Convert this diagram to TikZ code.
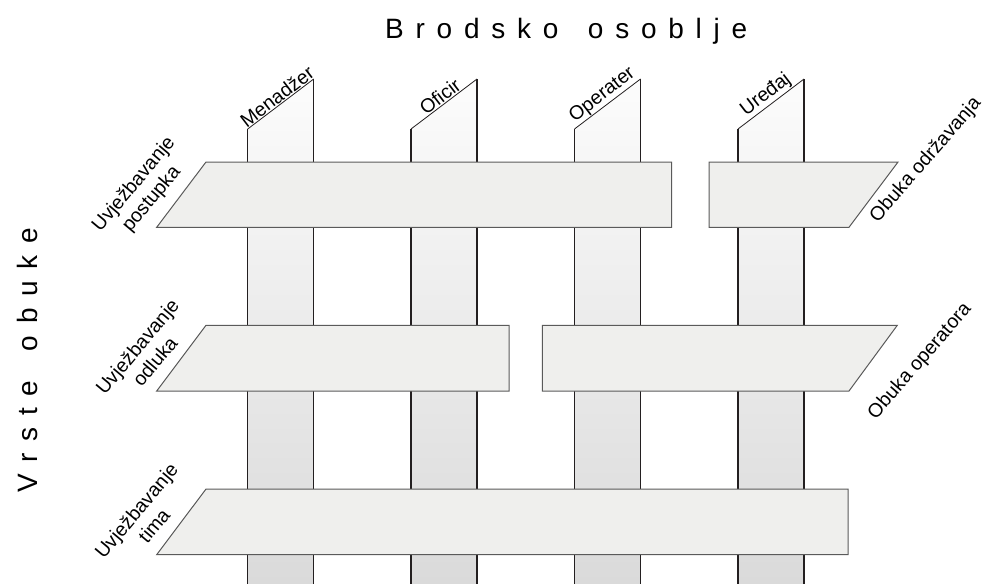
\documentclass[tikz,border=0pt]{standalone}
\usepackage{fontspec}
\setmainfont{Liberation Sans}
\newfontfamily\spacedsans[LetterSpace=42]{Liberation Sans}
\definecolor{stripTop}{HTML}{FCFCFC}
\definecolor{stripBot}{HTML}{DADADA}
\definecolor{edgeDark}{HTML}{231F20}
\definecolor{barFill}{HTML}{EFEFED}
\definecolor{barEdge}{HTML}{5A5A5A}
\begin{document}
\begin{tikzpicture}[x=1pt,y=-1pt,
  colstrip/.style={top color=stripTop, bottom color=stripBot, draw=none},
  colside/.style={draw=edgeDark, line width=1.4pt},
  coltop/.style={draw=edgeDark, line width=0.8pt},
  barshape/.style={fill=barFill, draw=barEdge, line width=1pt, line join=miter},
  lbl/.style={font=\fontsize{19.5}{23}\selectfont, inner sep=1pt},
  heading/.style={font=\spacedsans\fontsize{28}{32}\selectfont, inner sep=0pt}]
  \useasboundingbox (0,0) rectangle (986,584);

  % vertical strips (staff columns), running off the lower edge
  \foreach \x in {247.7,411,574.5,738}{
    \shade[colstrip] (\x,584) -- (\x,129) -- (\x+66,79) -- (\x+66,584) -- cycle;
    \draw[colside] (\x,584) -- (\x,129);
    \draw[colside] (\x+66,79) -- (\x+66,584);
    \draw[coltop] (\x,129) -- (\x+66,79);
  }

  % horizontal bars (training kinds)
  \draw[barshape] (156.7,227.3) -- (206,162) -- (671.7,162) -- (671.7,227.3) -- cycle;
  \draw[barshape] (709,162) -- (898,162) -- (849,227.3) -- (709,227.3) -- cycle;
  \draw[barshape] (156.7,391) -- (206,325.3) -- (509,325.3) -- (509,391) -- cycle;
  \draw[barshape] (542.3,325.3) -- (897.3,325.3) -- (849,391) -- (542.3,391) -- cycle;
  \draw[barshape] (156.7,554.7) -- (206,489) -- (848,489) -- (848,554.7) -- cycle;

  % headings
  \node[heading, anchor=base west] (staffHead) at (385,38) {Brodsko \hspace{10pt}osoblje};
  \node[heading, rotate=90, anchor=base] (kindHead) at (37,360) {Vrste \hspace{10pt}obuke};

  % column labels along the slanted tops
  \node[lbl, rotate=37.5, anchor=south] (colMgr) at (282,103) {Menadžer};
  \node[lbl, rotate=37.5, anchor=south] (colOff) at (445,103) {Oficir};
  \node[lbl, rotate=37.5, anchor=south] (colOpr) at (608.5,103) {Operater};
  \node[lbl, rotate=37.5, anchor=south] (colDev) at (772,103) {Uređaj};

  % row labels, left side
  \node[lbl, rotate=50, align=center] (rowProc) at (143,192) {Uvježbavanje\\postupka};
  \node[lbl, rotate=50, align=center] (rowDec) at (146,354) {Uvježbavanje\\odluka};
  \node[lbl, rotate=50, align=center] (rowTeam) at (145,518) {Uvježbavanje\\tima};

  % row labels, right side
  \node[lbl, rotate=49, anchor=base west] (rowMaint) at (877,224) {Obuka održavanja};
  \node[lbl, rotate=49, anchor=base west] (rowOper) at (875,421) {Obuka operatora};
\end{tikzpicture}
\end{document}
